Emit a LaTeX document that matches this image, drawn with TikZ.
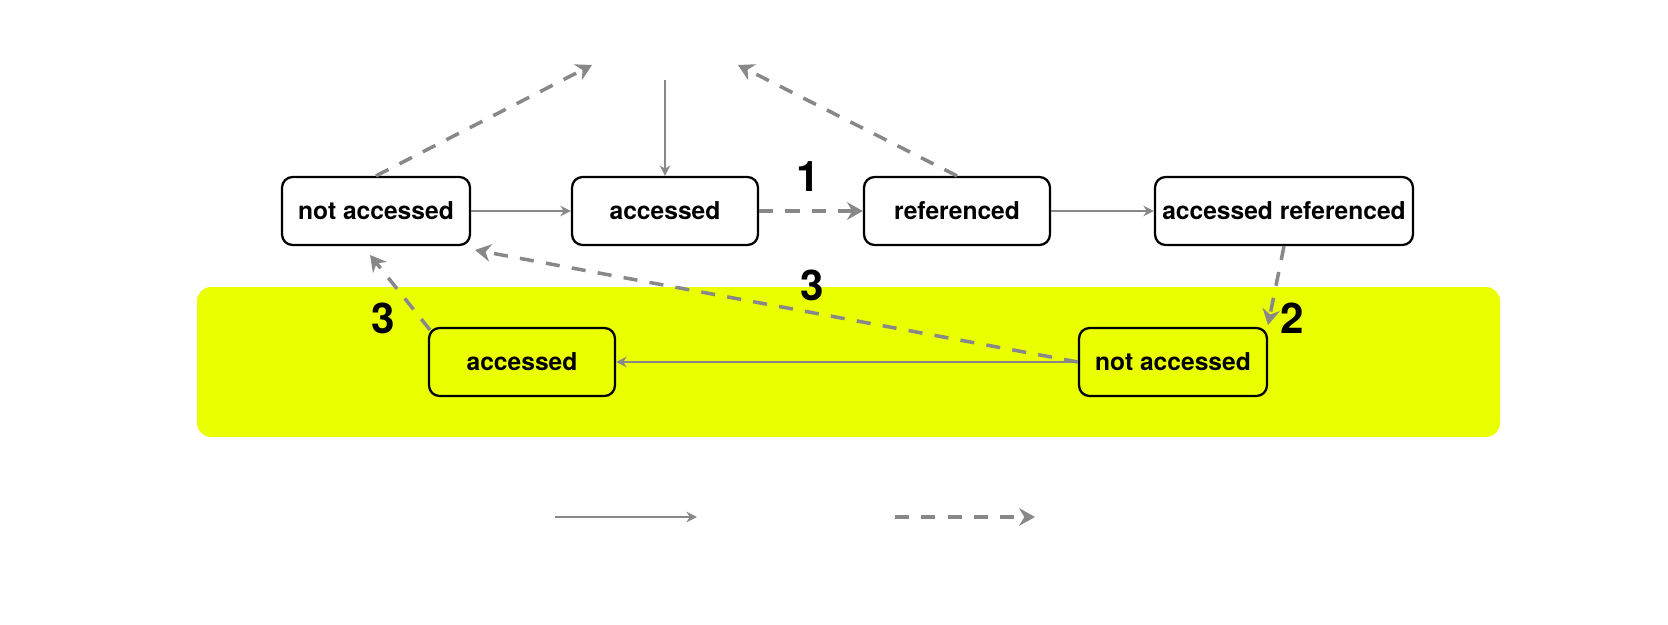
\documentclass[tikz,border=0pt]{standalone}
\usepackage{fontspec}
\setmainfont{TeX Gyre Heros}
\usetikzlibrary{arrows.meta}
\definecolor{zone}{HTML}{EAFF00}
\definecolor{edge}{HTML}{888888}
\tikzset{
  state/.style={draw, rounded corners=6pt, line width=1.3pt, minimum height=1.36cm,
    font=\fontsize{14}{17}\selectfont\bfseries},
  move/.style={draw=edge, line width=1.1pt, -{Stealth[length=6pt,width=6pt]}},
  age/.style={draw=edge, line width=2pt, dash pattern=on 8pt off 7pt, -{Stealth[length=9pt,width=10pt]}},
  stepnum/.style={font=\fontsize{24}{28}\selectfont\bfseries},
  hidden/.style={text=white, font=\fontsize{13}{16}\selectfont}
}
\begin{document}
\begin{tikzpicture}[x=0.02cm, y=-0.02cm]
	\useasboundingbox (0, 0) rectangle (1668, 625);
	\fill[zone, rounded corners=8pt] (197, 287) rectangle (1500, 437);

	\node[hidden] (gone) at (665, 65) {evicted};
	\node[hidden] (active) at (115, 211) {active};
	\node[hidden] (inactive) at (115, 362) {inactive};

	\node[state, fill=white, minimum width=3.76cm] (na) at (376, 211) {not accessed};
	\node[state, fill=white, minimum width=3.72cm] (ac) at (665, 211) {accessed};
	\node[state, fill=white, minimum width=3.72cm] (rf) at (957, 211) {referenced};
	\node[state, fill=white, minimum width=5.16cm] (ar) at (1284, 211) {accessed referenced};
	\node[state, fill=zone, minimum width=3.72cm] (lac) at (522, 362) {accessed};
	\node[state, fill=zone, minimum width=3.76cm] (lna) at (1173, 362) {not accessed};

	\coordinate (gl) at (592, 65);
	\coordinate (gr) at (738, 65);
	\coordinate (nad) at (475, 250);
	\coordinate (lacu) at (370, 255);

	\draw[move] (na) -- (ac);
	\draw[move] (gone) -- (ac);
	\draw[move] (rf) -- (ar);
	\draw[move] (lna) -- (lac);

	\draw[age] (na.north) -- (gl);
	\draw[age] (rf.north) -- (gr);
	\draw[age] (ac) -- (rf);
	\draw[age] (ar.south) -- (1268, 325);
	\draw[age] (lna.west) -- (nad);
	\draw[age] (430, 330) -- (lacu);

	\node[stepnum] (s1) at (808, 177) {1};
	\node[stepnum] (s2) at (1292, 318) {2};
	\node[stepnum] (s3) at (812, 285) {3};
	\node[stepnum] (s4) at (383, 318) {3};

	\coordinate (k1) at (555, 517);
	\coordinate (k2) at (697, 517);
	\coordinate (k3) at (895, 517);
	\coordinate (k4) at (1035, 517);
	\draw[move] (k1) -- (k2) node[hidden, right] {on access};
	\draw[age] (k3) -- (k4) node[hidden, right] {aging};
\end{tikzpicture}
\end{document}
